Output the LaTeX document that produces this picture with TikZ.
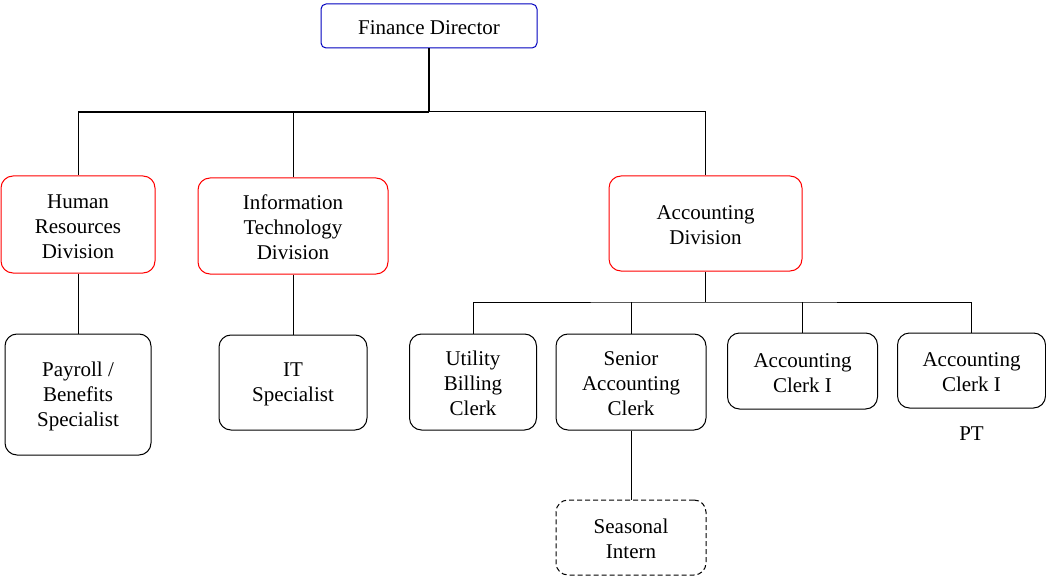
\documentclass[tikz,border=0pt]{standalone}
\usepackage{fontspec}
\setmainfont{Liberation Serif}
\newcommand{\dnstrut}{\rule{0pt}{18pt}}
\begin{document}
\begin{tikzpicture}[x=1pt,y=-1pt,
  box/.style={draw=black, rounded corners=12pt, align=center, inner sep=0pt,
    line width=1pt, font=\fontsize{21}{25}\selectfont},
  div/.style={box, draw=red},
  head/.style={box, draw=blue!75!black, rounded corners=5pt},
  intern/.style={box, dashed, dash pattern=on 5pt off 3pt},
  conn/.style={line width=1pt},
  trunk/.style={line width=1.8pt},
  lbl/.style={font=\fontsize{21}{25}\selectfont, inner sep=0pt}]
\useasboundingbox (0,0) rectangle (1046,577);

\node[head, minimum width=216, minimum height=44] (fd) at (429,26) {\dnstrut Finance Director};

\node[div, minimum width=154, minimum height=97] (hr) at (78,224.5) {\dnstrut Human\\Resources\\Division};
\node[div, minimum width=190, minimum height=96] (it) at (293,226) {\dnstrut Information\\Technology\\Division};
\node[div, minimum width=193, minimum height=95] (acc) at (705.5,223.5) {\dnstrut Accounting\\Division};

\node[box, minimum width=146, minimum height=121] (pay) at (78,394.5) {\dnstrut Payroll /\\Benefits\\Specialist};
\node[box, minimum width=148, minimum height=95] (its) at (293,382.5) {\dnstrut IT\\Specialist};

\node[box, minimum width=127, minimum height=96] (ub) at (473,382) {\dnstrut Utility\\Billing\\Clerk};
\node[box, minimum width=150, minimum height=96] (sac) at (631,382) {\dnstrut Senior\\Accounting\\Clerk};
\node[box, minimum width=150, minimum height=76] (ac1) at (802.5,371) {\dnstrut Accounting\\Clerk I};
\node[box, minimum width=148, minimum height=75] (ac2) at (971.5,370.5) {\dnstrut Accounting\\Clerk I};
\node[lbl] (pt) at (971.5,434) {PT};

\node[intern, minimum width=150, minimum height=75] (si) at (631,537.5) {\dnstrut Seasonal\\Intern};

% top level connectors
\coordinate (j1) at (429,112);
\draw[trunk] (fd.south) -- (j1);
\draw[trunk] (j1) -- (hr.north |- j1);
\draw[conn] (hr.north |- j1) -- (hr.north);
\draw[conn] (j1) -| (acc.north);
\draw[conn] (it.north) -- (it.north |- j1);

\draw[conn] (hr.south) -- (pay.north);
\draw[conn] (it.south) -- (its.north);

% accounting
\coordinate (j2) at (705.5,302);
\draw[trunk] (acc.south) -- (j2);
\draw[conn] (ub.north) |- (j2) -| (ac2.north);
\draw[conn] (sac.north) -- (sac.north |- j2);
\draw[conn] (ac1.north) -- (ac1.north |- j2);

\draw[conn] (sac.south) -- (si.north);
\end{tikzpicture}
\end{document}
